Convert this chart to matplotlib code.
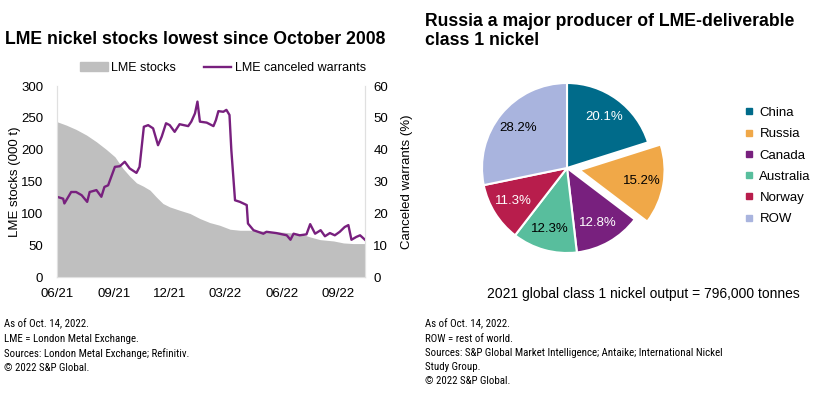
"""LME nickel stocks vs canceled warrants, plus class 1 nickel producer pie."""
import matplotlib
matplotlib.use("Agg")
import matplotlib.pyplot as plt
import matplotlib.dates as mdates
from matplotlib import font_manager
from matplotlib.lines import Line2D
from matplotlib.patches import Patch
import pandas as pd

# --- data ---
stock_dates = ["2021-06-01", "2021-06-16", "2021-07-02", "2021-07-19", "2021-08-04",
               "2021-08-20", "2021-09-03", "2021-09-16", "2021-09-27", "2021-10-08",
               "2021-10-19", "2021-10-30", "2021-11-09", "2021-11-20", "2021-12-01",
               "2021-12-17", "2022-01-03", "2022-01-19", "2022-02-04", "2022-02-20",
               "2022-03-09", "2022-03-25", "2022-04-16", "2022-05-07", "2022-06-03",
               "2022-06-30", "2022-07-17", "2022-08-02", "2022-08-24", "2022-09-09",
               "2022-09-25", "2022-10-14"]
stocks = [243.9, 238.6, 231.8, 222.9, 212.4, 200.4, 188.8, 170.5, 158.4, 147.9,
          142.7, 136.4, 125.9, 115.4, 110.1, 104.9, 99.7, 91.8, 85.5, 81.3,
          75.0, 73.4, 73.4, 71.9, 70.3, 68.2, 62.9, 58.7, 56.6, 53.5, 52.5, 52.5]

warrant_dates = ["2021-06-01", "2021-06-11", "2021-06-13", "2021-06-24", "2021-07-02",
                 "2021-07-11", "2021-07-20", "2021-07-24", "2021-08-04", "2021-08-12",
                 "2021-08-17", "2021-08-23", "2021-09-03", "2021-09-11", "2021-09-19",
                 "2021-09-27", "2021-10-08", "2021-10-13", "2021-10-20", "2021-10-27",
                 "2021-11-04", "2021-11-12", "2021-11-18", "2021-11-25", "2021-12-01",
                 "2021-12-09", "2021-12-17", "2021-12-31", "2022-01-05", "2022-01-11",
                 "2022-01-15", "2022-01-19", "2022-01-30", "2022-02-10", "2022-02-14",
                 "2022-02-18", "2022-02-26", "2022-03-03", "2022-03-08", "2022-03-11",
                 "2022-03-17", "2022-03-25", "2022-04-05", "2022-04-07", "2022-04-16",
                 "2022-05-02", "2022-05-07", "2022-05-23", "2022-06-09", "2022-06-15",
                 "2022-06-20", "2022-06-30", "2022-07-11", "2022-07-17", "2022-07-25",
                 "2022-08-03", "2022-08-10", "2022-08-18", "2022-08-26", "2022-09-03",
                 "2022-09-11", "2022-09-17", "2022-09-22", "2022-09-30", "2022-10-06",
                 "2022-10-14"]
warrants = [25.2, 24.6, 23.1, 26.7, 26.7, 25.7, 23.6, 26.7, 27.3, 25.2,
            28.3, 28.8, 34.6, 34.8, 36.2, 34.1, 32.7, 34.6, 47.2, 47.7,
            46.7, 41.4, 44.1, 48.3, 47.7, 45.6, 48.0, 47.4, 48.8, 51.4,
            55.1, 48.8, 48.5, 47.4, 49.3, 52.1, 51.9, 52.5, 50.9, 39.9,
            24.1, 23.6, 22.6, 16.8, 14.7, 13.6, 14.2, 13.8, 13.1, 11.7,
            13.6, 13.1, 13.4, 16.6, 13.6, 14.7, 12.8, 13.8, 13.1, 14.2,
            15.7, 16.3, 11.7, 12.6, 13.1, 11.7]

countries = ["China", "Russia", "Canada", "Australia", "Norway", "ROW"]
shares = [20.1, 15.2, 12.8, 12.3, 11.3, 28.2]
pie_colors = ["#006b8a", "#f0a848", "#78207e", "#58be9d", "#b81d4c", "#a9b4de"]
label_colors = ["white", "black", "white", "black", "white", "black"]

FAM = ["Liberation Sans", "DejaVu Sans"]
plt.rcParams["font.family"] = FAM

# footnotes use a condensed face in the original; take one if installed
installed = {f.name for f in font_manager.fontManager.ttflist}
narrow = [n for n in ("Liberation Sans Narrow", "Roboto Condensed", "Open Sans Condensed",
                      "DejaVu Sans Condensed", "Noto Sans Condensed") if n in installed]
NARROW = narrow[:1] + FAM
foot_size = 7.8 if narrow else 6.6

fig = plt.figure(figsize=(8.4, 3.94), dpi=100)

# --- left: stocks and warrants ---
ax = fig.add_axes([57 / 840, 1 - 277 / 394, 308 / 840, 191 / 394])
sd = pd.to_datetime(stock_dates)
wd = pd.to_datetime(warrant_dates)
ax.fill_between(sd, 0, stocks, color="#bfbfbf", lw=0)
ax.set_xlim(pd.Timestamp("2021-06-01"), pd.Timestamp("2022-10-14"))
ax.set_ylim(0, 300)
ax.set_yticks(range(0, 301, 50))
ax.xaxis.set_major_locator(mdates.MonthLocator(bymonth=[3, 6, 9, 12]))
ax.xaxis.set_major_formatter(mdates.DateFormatter("%m/%y"))
ax.set_ylabel("LME stocks (000 t)", fontsize=9.5, labelpad=0)
ax.tick_params(axis="y", length=0, labelsize=9.5, pad=10)
ax.tick_params(axis="x", length=0, labelsize=9.5, pad=8)

ax2 = ax.twinx()
ax2.plot(wd, warrants, color="#78207e", lw=1.7)
ax2.set_ylim(0, 60)
ax2.set_yticks(range(0, 61, 10))
ax2.set_ylabel("Canceled warrants (%)", fontsize=9.5, labelpad=9)
ax2.tick_params(length=0, labelsize=9.5, pad=6)
for a in (ax, ax2):
    for s in a.spines.values():
        s.set_color("#e0e0e0")
    a.spines["top"].set_visible(False)

handles = [Patch(color="#bfbfbf"), Line2D([], [], color="#78207e", lw=1.7)]
fig.legend(handles, ["LME stocks", "LME canceled warrants"], loc="center",
           bbox_to_anchor=(223 / 840, 1 - 68 / 394), ncol=2, frameon=False,
           fontsize=9, handlelength=2.2, handletextpad=0.3, columnspacing=2.2)

fig.text(5 / 840, 1 - 40 / 394, "LME nickel stocks lowest since October 2008",
         fontsize=12.7, weight="bold", va="center", ha="left")

# --- right: pie ---
cx, cy, r = 567, 168, 85
half = 1.25 * r
pax = fig.add_axes([(cx - half) / 840, (394 - cy - half) / 394, 2 * half / 840, 2 * half / 394])
wedges, _, autotexts = pax.pie(shares, colors=pie_colors, startangle=90, counterclock=False,
                               explode=[0, 0.15, 0, 0, 0, 0], autopct="%.1f%%",
                               pctdistance=0.74,
                               wedgeprops=dict(edgecolor="white", linewidth=1.5),
                               textprops=dict(fontsize=9.5))
for t, c in zip(autotexts, label_colors):
    t.set_color(c)
pax.set_xlim(-1.25, 1.25)
pax.set_ylim(-1.25, 1.25)
pax.set_aspect("equal")
pax.axis("off")

leg_handles = [Line2D([], [], marker="s", ls="", color=c, markersize=5) for c in pie_colors]
fig.legend(leg_handles, countries, loc="upper left", bbox_to_anchor=(733 / 840, 1 - 95 / 394),
           frameon=False, fontsize=9.5, handlelength=0.6, handletextpad=0.5, labelspacing=0.68)

fig.text(425 / 840, 1 - 31 / 394, "Russia a major producer of LME-deliverable\nclass 1 nickel",
         fontsize=12.7, weight="bold", va="center", ha="left", linespacing=1.2)
fig.text(643 / 840, 1 - 294 / 394, "2021 global class 1 nickel output = 796,000 tonnes",
         fontsize=10, ha="center", va="center")

# --- footnotes ---
fig.text(4 / 840, 1 - 319 / 394,
         "As of Oct. 14, 2022.\nLME = London Metal Exchange.\n"
         "Sources: London Metal Exchange; Refinitiv.\n\u00a9 2022 S&P Global.",
         fontsize=foot_size, family=NARROW, va="top", ha="left", linespacing=1.5)
fig.text(425 / 840, 1 - 319 / 394,
         "As of Oct. 14, 2022.\nROW = rest of world.\n"
         "Sources: S&P Global Market Intelligence; Antaike; International Nickel\n"
         "Study Group.\n\u00a9 2022 S&P Global.",
         fontsize=foot_size, family=NARROW, va="top", ha="left", linespacing=1.5)

fig.savefig("out.png", dpi=100)
